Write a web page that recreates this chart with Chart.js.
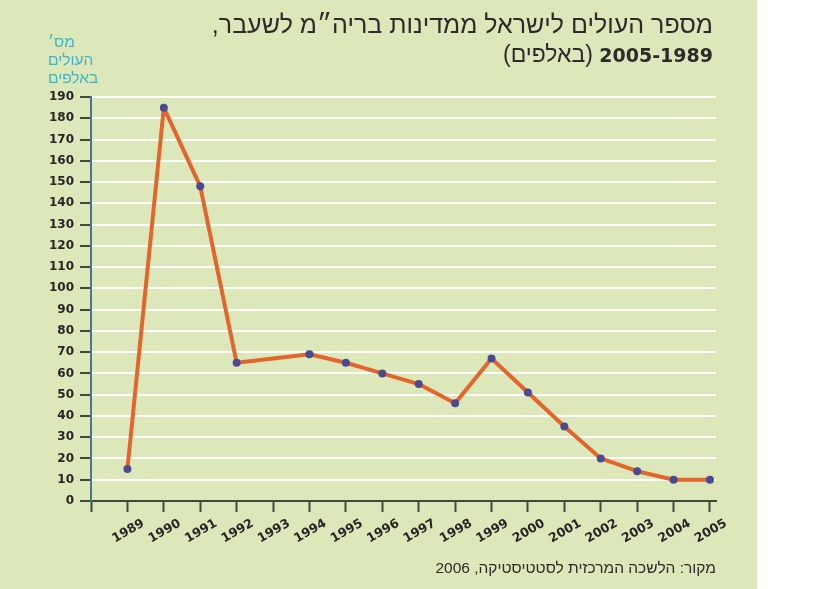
<!DOCTYPE html>
<html>
<head>
<meta charset="utf-8">
<script src="https://cdn.jsdelivr.net/npm/chart.js@4.4.0/dist/chart.umd.min.js"></script>
<style>
  html, body { margin: 0; padding: 0; background: #ffffff; }
  #wrap { position: relative; width: 819px; height: 589px; overflow: hidden; }
  #panel { position: absolute; left: 0; top: 0; width: 757px; height: 589px; background: #dde8ba; }
  #chart { position: absolute; left: 0; top: 0; }
  .txt { position: absolute; font-family: "Liberation Sans", Arial, sans-serif; color: #2b2b2b; white-space: nowrap; }
  #title1 { right: 106px; top: 10px; font-size: 25px; direction: rtl; }
  #title2 { right: 106px; top: 41px; font-size: 23px; direction: rtl; }
  #title2 b { font-family: "DejaVu Sans", sans-serif; font-weight: bold; font-size: 19px; }
  #ylab { left: 48px; top: 33px; font-size: 15.5px; line-height: 18px; color: #3cb4c8; direction: rtl; text-align: left; }
  #source { right: 103px; top: 559px; font-size: 15.5px; direction: rtl; }
</style>
</head>
<body>
<div id="wrap">
  <div id="panel"></div>
  <canvas id="chart" width="819" height="589"></canvas>
  <div class="txt" id="title1">מספר העולים לישראל ממדינות בריה״מ לשעבר,</div>
  <div class="txt" id="title2"><b>2005-1989</b> (באלפים)</div>
  <div class="txt" id="ylab"><div style="text-align:left">מס׳</div><div>העולים</div><div>באלפים</div></div>
  <div class="txt" id="source">מקור: הלשכה המרכזית לסטטיסטיקה, 2006</div>
</div>
<script>
"use strict"

// years shown on the x axis, 1993 has no value in the source chart
let years = [1989, 1990, 1991, 1992, 1993, 1994, 1995, 1996, 1997, 1998, 1999, 2000, 2001, 2002, 2003, 2004, 2005];
// immigrants in thousands
let immigrants = [15, 185, 148, 65, null, 69, 65, 60, 55, 46, 67, 51, 35, 20, 14, 10, 10];
// y ticks
let yTicks = [0, 10, 20, 30, 40, 50, 60, 70, 80, 90, 100, 110, 120, 130, 140, 150, 160, 170, 180, 190];

let points = [];
for (let i = 0; i < years.length; i++) {
    points.push({ x: years[i], y: immigrants[i] });
}

const ctx = document.getElementById("chart").getContext("2d");
const myChart = new Chart(ctx, {
    type: "line",
    data: {
        datasets: [
            {
                data: points,
                borderColor: "#e2662c",
                borderWidth: 4,
                borderJoinStyle: "round",
                pointRadius: 4,
                pointBackgroundColor: "#4b4a90",
                pointBorderWidth: 0,
                spanGaps: true,
                tension: 0
            }
        ]
    },
    options: {
        responsive: false,
        animation: false,
        layout: { padding: { left: 0, top: 97, right: 103, bottom: 0 } },
        plugins: { legend: { display: false }, tooltip: { enabled: false } },
        scales: {
            x: {
                type: "linear",
                min: 1988,
                max: 2005.165,
                afterBuildTicks: function (scale) {
                    let t = [];
                    for (let v = 1988; v <= 2005; v++) t.push({ value: v });
                    scale.ticks = t;
                },
                afterFit: function (scale) { scale.height = 88; },
                grid: {
                    display: true,
                    drawOnChartArea: false,
                    drawTicks: true,
                    tickLength: 11,
                    tickColor: "#3c4a3c",
                    tickWidth: 2
                },
                border: { display: true, color: "#3c4a3c", width: 2 },
                ticks: {
                    autoSkip: false,
                    minRotation: 30,
                    maxRotation: 30,
                    labelOffset: 16,
                    padding: 4,
                    color: "#262626",
                    font: { family: "DejaVu Sans", size: 12.5, weight: "bold" },
                    callback: function (v) { return v === 1988 ? "" : String(v); }
                }
            },
            y: {
                min: 0,
                max: 190,
                afterBuildTicks: function (scale) {
                    scale.ticks = yTicks.map(function (v) { return { value: v }; });
                },
                afterFit: function (scale) { scale.width = 91; },
                grid: {
                    color: "#ffffff",
                    lineWidth: 2,
                    drawTicks: true,
                    tickLength: 11,
                    tickColor: "#3c4a3c",
                    tickWidth: 2
                },
                border: { display: true, color: "#3f7a88", width: 2 },
                ticks: {
                    padding: 6,
                    color: "#262626",
                    font: { family: "DejaVu Sans", size: 12, weight: "bold" }
                }
            }
        }
    }
});
</script>
</body>
</html>
